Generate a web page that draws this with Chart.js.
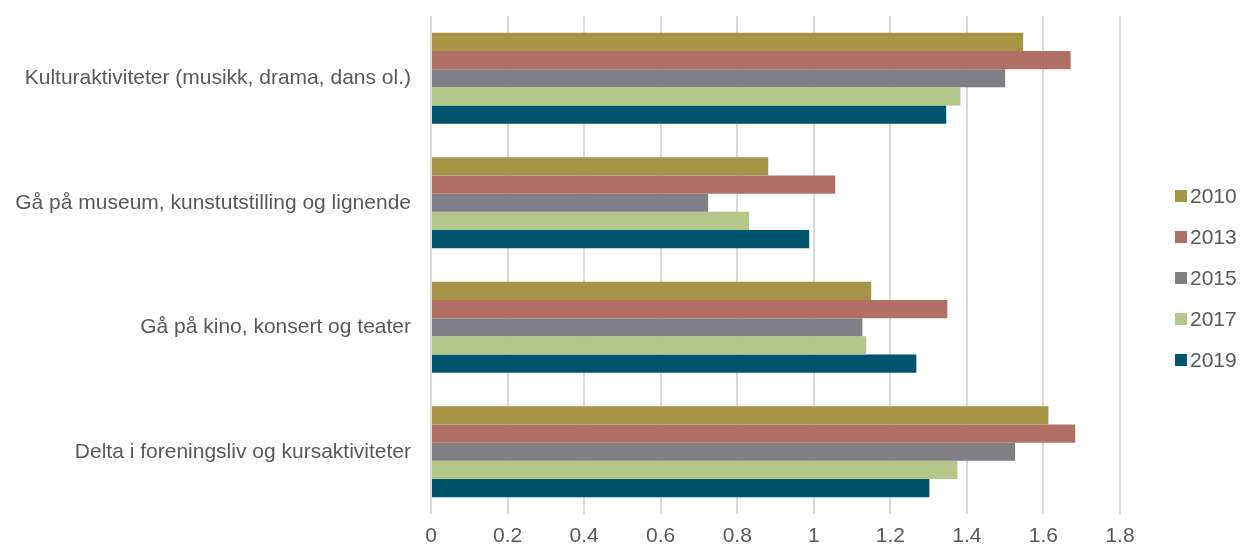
<!DOCTYPE html>
<html>
<head>
<meta charset="utf-8">
<script src="https://cdn.jsdelivr.net/npm/chart.js@4/dist/chart.umd.min.js"></script>
<style>
  html, body { margin: 0; padding: 0; background: #fff; }
  #wrap { position: relative; width: 1240px; height: 547px; }
  #c { position: absolute; left: 0; top: 0; }
  #legend { position: absolute; left: 1175px; top: 176px; font-family: "Liberation Sans", Arial, sans-serif; font-size: 21px; color: #595959; }
  .li { display: flex; align-items: center; height: 40.8px; }
  .sw { width: 12px; height: 12px; margin-right: 3px; }
</style>
</head>
<body>
<div id="wrap">
  <canvas id="c" width="1240" height="547"></canvas>
  <div id="legend"></div>
</div>
<script>
const categories = [
  "Kulturaktiviteter (musikk, drama, dans ol.)",
  "Gå på museum, kunstutstilling og lignende",
  "Gå på kino, konsert og teater",
  "Delta i foreningsliv og kursaktiviteter"
];
const seriesNames = ["2010", "2013", "2015", "2017", "2019"];
const values2010 = [1.547, 0.881, 1.150, 1.613];
const values2013 = [1.671, 1.056, 1.349, 1.683];
const values2015 = [1.500, 0.724, 1.127, 1.526];
const values2017 = [1.383, 0.831, 1.137, 1.375];
const values2019 = [1.346, 0.988, 1.268, 1.302];
const xTicks = [0, 0.2, 0.4, 0.6, 0.8, 1, 1.2, 1.4, 1.6, 1.8];

const colors = ["#A89446", "#B07066", "#7F7F85", "#B3C78A", "#00546E"];
const seriesValues = [values2010, values2013, values2015, values2017, values2019];

const datasets = seriesNames.map((n, i) => ({
  label: n,
  data: seriesValues[i],
  backgroundColor: colors[i],
  borderWidth: 0,
  barPercentage: 1.0,
  categoryPercentage: 0.73
}));

const FONT = '"Liberation Sans", Arial, sans-serif';

new Chart(document.getElementById('c'), {
  type: 'bar',
  data: { labels: categories, datasets },
  options: {
    indexAxis: 'y',
    responsive: false,
    animation: false,
    devicePixelRatio: 1,
    layout: { padding: { left: 0, right: 120, top: 16, bottom: 0 } },
    plugins: { legend: { display: false }, tooltip: { enabled: false } },
    scales: {
      x: {
        min: 0, max: 1.8,
        afterBuildTicks: (s) => { s.ticks = xTicks.map(v => ({ value: v })); },
        afterFit: (s) => { s.height = 33; s.paddingLeft = 0; s.paddingRight = 0; },
        grid: { color: '#d9d9d9', lineWidth: 2, drawTicks: false },
        border: { display: false },
        ticks: {
          padding: 10,
          color: '#595959',
          font: { family: FONT, size: 21 },
          callback: (v) => String(v)
        }
      },
      y: {
        afterFit: (s) => { s.width = 431; s.paddingTop = 0; s.paddingBottom = 0; },
        grid: { display: false, drawTicks: false },
        border: { display: false },
        ticks: {
          padding: 20,
          color: '#595959',
          font: { family: FONT, size: 21 }
        }
      }
    }
  }
});

const leg = document.getElementById('legend');
seriesNames.forEach((n, i) => {
  const d = document.createElement('div');
  d.className = 'li';
  d.innerHTML = '<span class="sw" style="background:' + colors[i] + '"></span><span>' + n + '</span>';
  leg.appendChild(d);
});
</script>
</body>
</html>
